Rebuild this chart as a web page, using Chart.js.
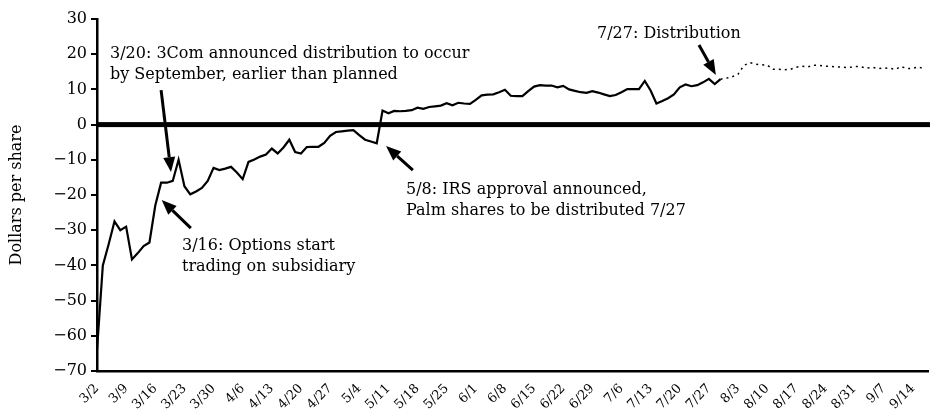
<!DOCTYPE html>
<html>
<head>
<meta charset="utf-8">
<script src="https://cdn.jsdelivr.net/npm/chart.js@4.4.1/dist/chart.umd.min.js"></script>
<style>
  html, body { margin: 0; padding: 0; background: #fff; }
  #wrap { width: 930px; height: 413px; position: relative; }
</style>
</head>
<body>
<div id="wrap"><canvas id="chart"></canvas></div>
<script>
// Weekly tick labels (one every 5 trading days)
const weekLabels = ['3/2', '3/9', '3/16', '3/23', '3/30', '4/6', '4/13', '4/20', '4/27',
    '5/4', '5/11', '5/18', '5/25', '6/1', '6/8', '6/15', '6/22', '6/29',
    '7/6', '7/13', '7/20', '7/27', '8/3', '8/10', '8/17', '8/24', '8/31', '9/7', '9/14'];

// Daily values, dollars per share (trading day index 0 = 3/2)
const dailyValues = [
    -64, -40, -34, -27.5, -30, -29, -38.3, -36.5, -34.5, -33.5,
    -23, -16.5, -16.5, -16, -10, -17.5, -19.8, -19, -18, -16,
    -12.3, -12.9, -12.5, -12, -13.6, -15.5, -10.6, -9.9, -9.1, -8.5,
    -6.8, -8.2, -6.5, -4.3, -7.8, -8.2, -6.4, -6.3, -6.3, -5.2,
    -3.2, -2.1, -1.9, -1.7, -1.6, -3.0, -4.3, -4.8, -5.3, 4.0,
    3.2, 3.9, 3.8, 3.9, 4.1, 4.8, 4.5, 5.0, 5.2, 5.4,
    6.1, 5.5, 6.2, 6.0, 5.9, 7.0, 8.3, 8.5, 8.6, 9.2,
    9.9, 8.2, 8.1, 8.1, 9.5, 10.8, 11.2, 11.1, 11.1, 10.6,
    11.0, 10.0, 9.6, 9.2, 9.0, 9.5, 9.1, 8.6, 8.1, 8.4,
    9.2, 10.1, 10.1, 10.1, 12.4, 9.7, 6.0, 6.7, 7.5, 8.6,
    10.6, 11.4, 10.9, 11.2, 12.0, 13.0, 11.5, 12.9, 13.2, 13.6,
    14.3, 16.8, 17.6, 17.2, 17.0, 16.9, 15.7, 15.7, 15.6, 15.7,
    16.3, 16.6, 16.4, 16.9, 16.8, 16.6, 16.5, 16.4, 16.3, 16.2,
    16.5, 16.5, 16.0, 16.3, 15.9, 16.1, 16.0, 15.7, 16.5, 15.9,
    16.0, 16.4, 15.7
];

// Index where the distribution happened (solid before, dotted after)
const distIndex = 107;

const yTicks = [30, 20, 10, 0, -10, -20, -30, -40, -50, -60, -70];

// Annotations: text lines + arrow (tail -> tip) in data units
const notes = [
    { lines: ['3/20: 3Com announced distribution to occur', 'by September, earlier than planned'],
      tx: 110, ty: 58, from: [11, 9.8], to: [12.7, -13.5] },
    { lines: ['3/16: Options start', 'trading on subsidiary'],
      tx: 182, ty: 250, from: [16.1, -29.4], to: [11.1, -21.4] },
    { lines: ['5/8: IRS approval announced,', 'Palm shares to be distributed 7/27'],
      tx: 406, ty: 194, from: [54.2, -12.9], to: [49.6, -6.1] },
    { lines: ['7/27: Distribution'],
      tx: 597, ty: 38, from: [103.3, 22.6], to: [106.2, 14.1] }
];

const serif = "'DejaVu Serif', 'Liberation Serif', serif";

const solidData = dailyValues.map((v, i) => ({ x: i, y: i <= distIndex ? v : null }));
const dottedData = dailyValues.map((v, i) => ({ x: i, y: i >= distIndex ? v : null }));

function drawArrow(ctx, x0, y0, x1, y1) {
    const ang = Math.atan2(y1 - y0, x1 - x0);
    const headLen = 15, headW = 6;
    const bx = x1 - headLen * Math.cos(ang), by = y1 - headLen * Math.sin(ang);
    ctx.beginPath();
    ctx.moveTo(x0, y0);
    ctx.lineTo(bx, by);
    ctx.lineWidth = 3;
    ctx.stroke();
    ctx.beginPath();
    ctx.moveTo(x1, y1);
    ctx.lineTo(bx + headW * Math.sin(ang), by - headW * Math.cos(ang));
    ctx.lineTo(bx - headW * Math.sin(ang), by + headW * Math.cos(ang));
    ctx.closePath();
    ctx.fill();
}

const extras = {
    id: 'extras',
    beforeDatasetsDraw(chart) {
        const { ctx, chartArea, scales } = chart;
        const y0 = scales.y.getPixelForValue(0);
        ctx.save();
        ctx.fillStyle = '#000';
        ctx.fillRect(chartArea.left, y0 - 2.5, chart.width - chartArea.left, 5);
        ctx.restore();
    },
    afterDatasetsDraw(chart) {
        const { ctx, scales } = chart;
        ctx.save();
        ctx.fillStyle = '#000';
        ctx.strokeStyle = '#000';
        ctx.font = '16px ' + serif;
        ctx.textBaseline = 'alphabetic';
        notes.forEach(n => {
            n.lines.forEach((t, k) => ctx.fillText(t, n.tx, n.ty + k * 21));
            drawArrow(ctx,
                scales.x.getPixelForValue(n.from[0]), scales.y.getPixelForValue(n.from[1]),
                scales.x.getPixelForValue(n.to[0]), scales.y.getPixelForValue(n.to[1]));
        });
        ctx.restore();
    }
};

new Chart(document.getElementById('chart'), {
    type: 'line',
    data: {
        datasets: [
            { data: solidData, borderColor: '#000', borderWidth: 2.2, pointRadius: 0, tension: 0, spanGaps: false },
            { data: dottedData, borderColor: '#000', borderWidth: 1.5, borderDash: [2, 4], pointRadius: 0, tension: 0, spanGaps: false }
        ]
    },
    options: {
        responsive: true,
        maintainAspectRatio: false,
        animation: false,
        layout: { padding: { top: 19, right: 2, left: 7, bottom: 0 } },
        plugins: { legend: { display: false }, tooltip: { enabled: false } },
        scales: {
            x: {
                type: 'linear',
                min: 0,
                max: 142.6,
                afterBuildTicks: (scale) => {
                    scale.ticks = weekLabels.map((_, w) => ({ value: w * 5 }));
                },
                afterFit: (scale) => { scale.height = 42; },
                grid: { display: false },
                border: { display: true, color: '#000', width: 2.5 },
                ticks: {
                    autoSkip: false,
                    maxRotation: 45,
                    minRotation: 45,
                    padding: 2,
                    color: '#000',
                    font: { family: serif, size: 13 },
                    callback: (v) => weekLabels[Math.round(v / 5)]
                }
            },
            y: {
                min: -70,
                max: 30,
                afterBuildTicks: (scale) => {
                    scale.ticks = yTicks.map(v => ({ value: v }));
                },
                afterFit: (scale) => { scale.width = 90; },
                grid: { drawOnChartArea: false, drawTicks: true, tickLength: 6, color: '#000', lineWidth: 2 },
                border: { display: true, color: '#000', width: 2.5 },
                title: {
                    display: true,
                    text: 'Dollars per share',
                    color: '#000',
                    font: { family: serif, size: 16 },
                    padding: { top: 0, bottom: 8 }
                },
                ticks: {
                    padding: 4,
                    color: '#000',
                    font: { family: serif, size: 16 },
                    callback: (v) => v < 0 ? '\u2212' + Math.abs(v) : String(v)
                }
            }
        }
    },
    plugins: [extras]
});
</script>
</body>
</html>
